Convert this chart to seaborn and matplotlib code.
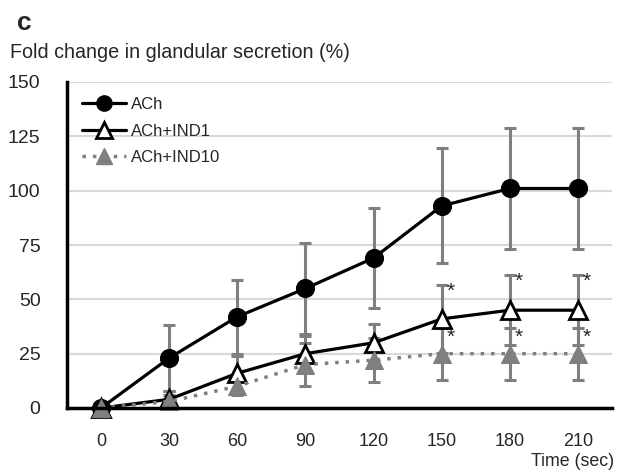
import matplotlib
matplotlib.use("Agg")
import matplotlib.pyplot as plt
import seaborn as sns
import pandas as pd
from matplotlib.lines import Line2D

time = [0, 30, 60, 90, 120, 150, 180, 210]
ach_mean = [0, 23, 42, 55, 69, 93, 101, 101]
ach_sd = [0, 15, 17, 21, 23, 26.5, 28, 28]
ind1_mean = [0, 4, 16, 25, 30, 41, 45, 45]
ind1_sd = [0, 4, 8, 8, 8.6, 15.5, 16, 16]
ind10_mean = [0, 3, 10, 20, 22, 25, 25, 25]
ind10_sd = [0, 3, 4, 10, 10, 12, 12, 12]
yticks = [0, 25, 50, 75, 100, 125, 150]

sns.set_theme(style="white")
plt.rcParams['font.family'] = ['Liberation Sans', 'DejaVu Sans']

fig = plt.figure(figsize=(6.26, 4.72), dpi=100)
ax = fig.add_axes([67/626, 1-408/472, (612-67)/626, (408-82)/472])

grey = "#7f7f7f"
ebkw = dict(fmt="none", ecolor=grey, elinewidth=2.2, capsize=4, capthick=2.2, zorder=2, clip_on=False)
ax.errorbar(time, ach_mean, yerr=ach_sd, **ebkw)
ax.errorbar(time, ind1_mean, yerr=ind1_sd, **ebkw)
ax.errorbar(time, ind10_mean, yerr=ind10_sd, **ebkw)

df = pd.DataFrame({"time": time, "ach": ach_mean, "ind1": ind1_mean, "ind10": ind10_mean})
sns.lineplot(data=df, x="time", y="ach", ax=ax, color="black", lw=2.3, marker="o",
             markersize=13, markerfacecolor="black", markeredgecolor="black", zorder=3, clip_on=False)
sns.lineplot(data=df, x="time", y="ind1", ax=ax, color="black", lw=2.3, marker="^",
             markersize=13, markerfacecolor="white", markeredgecolor="black", markeredgewidth=2,
             zorder=4, clip_on=False)
sns.lineplot(data=df, x="time", y="ind10", ax=ax, color=grey, lw=2.5, ls=(0, (1, 2)), marker="^",
             markersize=13, markerfacecolor=grey, markeredgecolor=grey, zorder=5, clip_on=False)

# significance asterisks
for i in range(5, 8):
    ax.annotate("*", (time[i], ind1_mean[i] + ind1_sd[i]), xytext=(9, -6), textcoords="offset pixels",
                ha="center", va="center", fontsize=15, zorder=6)
    ax.annotate("*", (time[i], ind10_mean[i] + ind10_sd[i]), xytext=(9, -10), textcoords="offset pixels",
                ha="center", va="center", fontsize=15, zorder=6)

ax.set_xlim(-15, 225)
ax.set_ylim(0, 150)
ax.set_xticks(time)
ax.set_xticklabels([str(t) for t in time], fontsize=13)
ax.set_yticks(yticks)
ax.set_yticklabels([str(v) for v in yticks], fontsize=14)
ax.tick_params(axis="x", length=0, pad=18)
ax.tick_params(axis="y", length=0, pad=19)
ax.yaxis.grid(True, color="#d9d9d9", lw=1.5)
ax.set_axisbelow(True)
for s in ["top", "right"]:
    ax.spines[s].set_visible(False)
for s in ["left", "bottom"]:
    ax.spines[s].set_color("black")
    ax.spines[s].set_linewidth(2.5)
    ax.spines[s].set_zorder(6)
ax.set_xlabel("")
ax.set_ylabel("")

handles = [
    Line2D([], [], color="black", lw=2.3, marker="o", markersize=11, markerfacecolor="black"),
    Line2D([], [], color="black", lw=2.3, marker="^", markersize=11, markerfacecolor="white", markeredgewidth=2),
    Line2D([], [], color=grey, lw=2.5, ls=(0, (1, 2)), marker="^", markersize=11, markerfacecolor=grey),
]
ax.legend(handles, ["ACh", "ACh+IND1", "ACh+IND10"], loc="upper left", bbox_to_anchor=(0.01, 0.985),
          frameon=False, fontsize=12, handlelength=2.6, handletextpad=0.3, labelspacing=0.7,
          borderaxespad=0.2)

fig.text(17/626, 1-23/472, "c", fontsize=19, fontweight="bold", va="center", ha="left")
fig.text(10/626, 1-52/472, "Fold change in glandular secretion (%)", fontsize=14.2, va="center", ha="left")
fig.text(614/626, 1-461/472, "Time (sec)", fontsize=12.8, va="center", ha="right")

fig.savefig("out.png", dpi=100)
